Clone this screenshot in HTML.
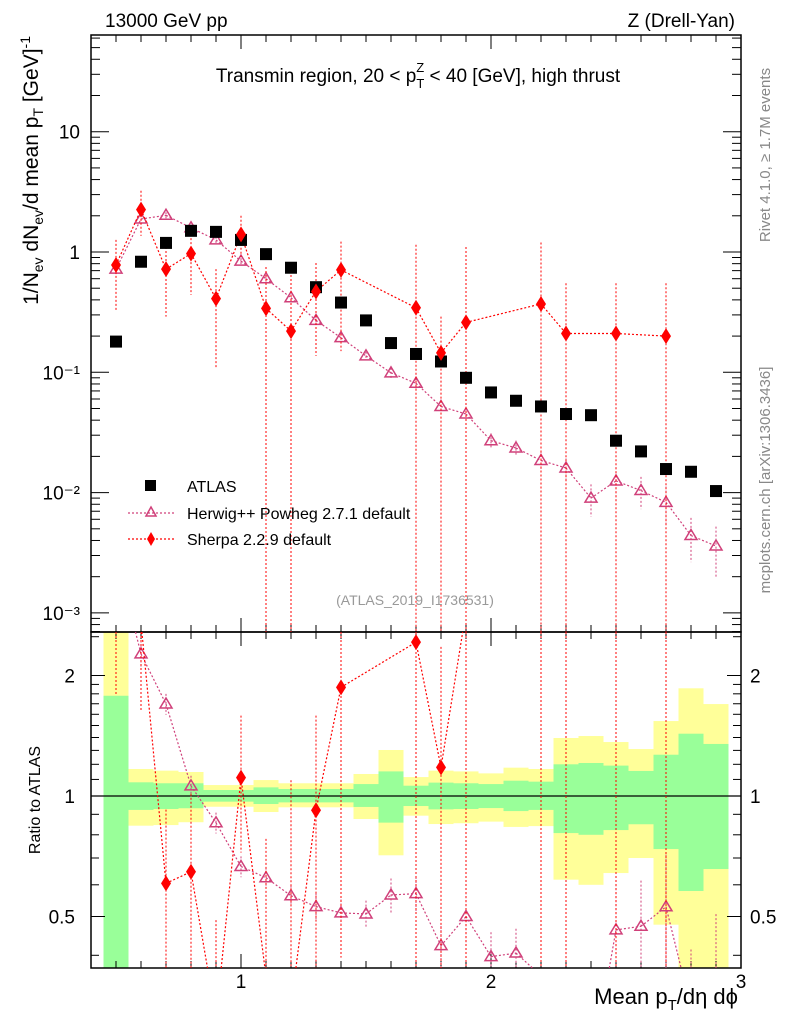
<!DOCTYPE html>
<html><head><meta charset="utf-8"><style>
html,body{margin:0;padding:0;background:#fff;overflow:hidden;width:786px;height:1024px;}
svg{display:block;font-family:"Liberation Sans","DejaVu Sans",sans-serif;}
</style></head><body>
<svg id="chart" width="786" height="1024" viewBox="0 0 786 1024" xmlns="http://www.w3.org/2000/svg">
<g id="ratio-bands"></g>
<g id="axes"></g>
<g id="series"></g>
<text x="105" y="27" font-size="19">13000 GeV pp</text>
<text x="735" y="27" font-size="19" text-anchor="end">Z (Drell-Yan)</text>
<text x="418" y="82" font-size="19" text-anchor="middle">Transmin region, 20 &lt; p<tspan font-size="13" dy="6">T</tspan><tspan font-size="13" dx="-8" dy="-16">Z</tspan><tspan dy="10"> &lt; 40 [GeV], high thrust</tspan></text>
<text transform="translate(38,36) rotate(-90)" font-size="21" text-anchor="end">1/N<tspan font-size="14" dy="5">ev</tspan><tspan dy="-5"> dN</tspan><tspan font-size="14" dy="5">ev</tspan><tspan dy="-5">/d mean p</tspan><tspan font-size="14" dy="5">T</tspan><tspan dy="-5"> [GeV]</tspan><tspan font-size="14" dy="-8">-1</tspan></text>
<text transform="translate(40,800) rotate(-90)" font-size="16" text-anchor="middle">Ratio to ATLAS</text>
<text x="738" y="1004" font-size="22" text-anchor="end">Mean p<tspan font-size="15" dy="6">T</tspan><tspan dy="-6">/dη dϕ</tspan></text>
<text transform="translate(770,155) rotate(-90)" font-size="15" fill="#888" text-anchor="middle">Rivet 4.1.0, ≥ 1.7M events</text>
<text transform="translate(770,480) rotate(-90)" font-size="15" fill="#888" text-anchor="middle">mcplots.cern.ch [arXiv:1306.3436]</text>
<text x="415" y="605" font-size="14" fill="#999" text-anchor="middle">(ATLAS_2019_I1736531)</text>
<g>
<rect x="145" y="480" width="11" height="11" fill="#000"/>
<text x="187" y="492" font-size="16">ATLAS</text>
<line x1="128" y1="513" x2="174" y2="513" stroke="#d0407a" stroke-dasharray="2,2" stroke-width="1.2"/>
<path d="M151,507 L156,516 L146,516 Z" fill="none" stroke="#d0407a" stroke-width="1.5"/>
<text x="187" y="519" font-size="16">Herwig++ Powheg 2.7.1 default</text>
<line x1="128" y1="539" x2="174" y2="539" stroke="#f00" stroke-dasharray="2,2" stroke-width="1.2"/>
<path d="M151,532 L155,539 L151,546 L147,539 Z" fill="#f00"/>
<text x="187" y="545" font-size="16">Sherpa 2.2.9 default</text>
</g>
</svg>
<script>
const xCenters=[0.5,0.6,0.7,0.8,0.9,1.0,1.1,1.2,1.3,1.4,1.5,1.6,1.7,1.8,1.9,2.0,2.1,2.2,2.3,2.4,2.5,2.6,2.7,2.8,2.9];
const atlas=[0.18,0.83,1.19,1.5,1.47,1.26,0.96,0.74,0.51,0.38,0.27,0.175,0.142,0.123,0.09,0.068,0.058,0.052,0.045,0.044,0.027,0.022,0.0157,0.0149,0.0103];
const herwig=[0.72,1.88,2.02,1.59,1.26,0.84,0.60,0.417,0.27,0.194,0.137,0.099,0.081,0.052,0.045,0.027,0.0235,0.0185,0.016,0.009,0.0125,0.0104,0.0083,0.0044,0.0036];
const herwigRelErr=[0.1,0.08,0.06,0.06,0.06,0.06,0.06,0.06,0.08,0.08,0.08,0.1,0.1,0.12,0.15,0.15,0.15,0.2,0.2,0.3,0.3,0.3,0.35,0.4,0.45];
const sherpa=[0.78,2.25,0.72,0.97,0.41,1.40,0.34,0.22,0.47,0.71,null,null,0.344,0.145,0.26,null,null,0.37,0.21,null,0.21,null,0.2,null,null];
const sherpaHi=[1.26,3.23,1.1,1.52,0.72,2.0,0.75,0.81,0.81,1.22,null,null,1.15,0.29,1.1,null,null,1.2,0.55,null,0.55,null,0.55,null,null];
const sherpaLo=[0.32,1.36,0.29,0.44,0.11,0.91,0,0,0.137,0.15,null,null,0,0,0,null,null,0,0,null,0,null,0,null,null];
const totUp=[2.6,1.168,1.157,1.148,1.065,1.065,1.096,1.076,1.076,1.076,1.135,1.303,1.115,1.157,1.152,1.139,1.177,1.168,1.396,1.412,1.364,1.310,1.539,1.858,1.697];
const totDn=[0.3,0.843,0.846,0.860,0.940,0.940,0.912,0.937,0.937,0.937,0.876,0.711,0.893,0.851,0.855,0.863,0.837,0.841,0.618,0.600,0.642,0.700,0.477,0.3,0.3];
const statUp=[1.78,1.082,1.076,1.076,1.035,1.035,1.051,1.041,1.041,1.041,1.071,1.152,1.061,1.080,1.076,1.071,1.092,1.086,1.200,1.209,1.191,1.155,1.268,1.431,1.349];
const statDn=[0.3,0.923,0.928,0.932,0.968,0.968,0.955,0.964,0.964,0.964,0.939,0.858,0.944,0.926,0.928,0.933,0.917,0.923,0.808,0.800,0.822,0.850,0.737,0.579,0.657];
const mainTicks=[["10",1e1],["1",1],["10⁻¹",0.1],["10⁻²",0.01],["10⁻³",0.001]];
const ratioTicks=[["2",2],["1",1],["0.5",0.5]];
const xTicks=[1,2,3];

const X0=91,X1=741,MT=35,MB=632,RB=968;
const NS="http://www.w3.org/2000/svg";
function xs(v){return X0+(v-0.4)*250;}
function ys(v){return 252-120.3*Math.log10(v);}
function rs(r){return 796-120.5*Math.log2(r);}
function cl(y,a,b){return Math.max(a,Math.min(b,y));}
function mk(tag,attrs,parent){const e=document.createElementNS(NS,tag);for(const k in attrs)e.setAttribute(k,attrs[k]);parent.appendChild(e);return e;}
function clipPath(P,ya,yb){let d='';
 for(let i=0;i<P.length-1;i++){let [x1,y1]=P[i],[x2,y2]=P[i+1];
  if((y1<ya&&y2<ya)||(y1>yb&&y2>yb))continue;
  const f=(y)=>x1+(x2-x1)*(y-y1)/(y2-y1);
  if(y1<ya){x1=f(ya);y1=ya;} else if(y1>yb){x1=f(yb);y1=yb;}
  const ox2=P[i+1][0],oy2=P[i+1][1];
  if(oy2<ya){x2=P[i][0]+(ox2-P[i][0])*(ya-P[i][1])/(oy2-P[i][1]);y2=ya;}
  else if(oy2>yb){x2=P[i][0]+(ox2-P[i][0])*(yb-P[i][1])/(oy2-P[i][1]);y2=yb;}
  d+=`M${x1.toFixed(1)},${y1.toFixed(1)}L${x2.toFixed(1)},${y2.toFixed(1)}`;}
 return d||'M0,0';}
const bands=document.getElementById('ratio-bands'),axes=document.getElementById('axes'),ser=document.getElementById('series');

xCenters.forEach((c,i)=>{
 const x=xs(c-0.05),w=xs(c+0.05)-x;
 const yt=cl(rs(totUp[i]),MB,RB),yb=cl(rs(totDn[i]),MB,RB);
 const r1=mk('rect',{x:x,y:yt,width:w,height:yb-yt,fill:'#ffff99'},bands);
 
 
 const gt=cl(rs(statUp[i]),MB,RB),gb=cl(rs(statDn[i]),MB,RB);
 const r2=mk('rect',{x:x,y:gt,width:w,height:gb-gt,fill:'#99ff99'},bands);
 
 
});

[[MT,MB],[MB,RB]].forEach(([a,b])=>{const f=mk('rect',{x:X0,y:a,width:X1-X0,height:b-a,fill:'none',stroke:'#000','stroke-width':1.5},axes);
 
 });
mk('line',{x1:X0,y1:796,x2:X1,y2:796,stroke:'#000','stroke-width':1.3},axes);
for(let k=5;k<=29;k++){const v=k/10,x=xs(v),maj=Math.abs(v-Math.round(v))<1e-6;const L=maj?14:7;
 [[MT,1],[MB,-1],[MB,1],[RB,-1]].forEach(([y,d])=>mk('line',{x1:x,y1:y,x2:x,y2:y+d*L,stroke:'#000'},axes));}
xTicks.forEach(v=>{const t=mk('text',{x:xs(v),y:988,'font-size':19,'text-anchor':'middle'},axes);t.textContent=v;
 
 });
for(let e=-4;e<=1;e++)for(let m=1;m<=9;m++){const v=m*Math.pow(10,e),y=ys(v);if(y<MT||y>MB)continue;const L=m==1?18:9;
 mk('line',{x1:X0,y1:y,x2:X0+L,y2:y,stroke:'#000'},axes);mk('line',{x1:X1,y1:y,x2:X1-L,y2:y,stroke:'#000'},axes);}
mainTicks.forEach(([s,v])=>{const t=mk('text',{x:80,y:ys(v)+7,'font-size':19,'text-anchor':'end'},axes);t.textContent=s;
 
 });
[0.4,0.5,0.6,0.7,0.8,0.9,1,1.1,1.2,1.3,1.4,1.5,1.6,1.7,1.8,1.9,2,2.5].forEach(v=>{const y=rs(v);const L=(v==0.5||v==1||v==2)?14:8;
 mk('line',{x1:X0,y1:y,x2:X0+L,y2:y,stroke:'#000'},axes);mk('line',{x1:X1,y1:y,x2:X1-L,y2:y,stroke:'#000'},axes);});
ratioTicks.forEach(([s,v])=>{[[75,'end'],[750,'start']].forEach(([x,a])=>{const t=mk('text',{x:x,y:rs(v)+7,'font-size':19,'text-anchor':a},axes);t.textContent=s;
 
 });});

const gm=mk('g',{},ser),gr=mk('g',{},ser);
function tri(g,x,y,col){return mk('path',{d:`M${x},${y-6} L${x+6},${y+4} L${x-6},${y+4} Z`,fill:'none',stroke:col,'stroke-width':1.5},g);}
function dia(g,x,y){return mk('path',{d:`M${x},${y-8} L${x+5},${y} L${x},${y+8} L${x-5},${y} Z`,fill:'#f00'},g);}
function inR(y){return y>=MB+6&&y<=RB-6;}
function inM(y){return y>=MT+6&&y<=MB-6;}
function vline(g,x,a,b,lo,hi,col){const y1=cl(a,lo,hi),y2=cl(b,lo,hi);if(y1===y2)return;mk('line',{x1:x,y1:y1,x2:x,y2:y2,stroke:col,'stroke-dasharray':'2,2'},g);}
const HC='#d0407a';
let P=[];
xCenters.forEach((c,i)=>{const x=xs(c);P.push([x,ys(herwig[i])]);
 vline(gm,x,ys(herwig[i]*(1+herwigRelErr[i])),ys(herwig[i]*(1-herwigRelErr[i])),MT,MB,HC);});
mk('path',{d:clipPath(P,MT,MB),fill:'none',stroke:HC,'stroke-dasharray':'2,2','stroke-width':1.2},gm);
xCenters.forEach((c,i)=>{const y=ys(herwig[i]);if(!inM(y))return;const p=tri(gm,xs(c),y,HC);
 
 });
P=[];
xCenters.forEach((c,i)=>{if(sherpa[i]==null)return;const x=xs(c);P.push([x,ys(sherpa[i])]);
 const lo=sherpaLo[i]>0?ys(sherpaLo[i]):MB;
 vline(gm,x,ys(sherpaHi[i]),lo,MT,MB,'#f00');});
mk('path',{d:clipPath(P,MT,MB),fill:'none',stroke:'#f00','stroke-dasharray':'2,2','stroke-width':1.2},gm);
xCenters.forEach((c,i)=>{const r=mk('rect',{x:xs(c)-6,y:ys(atlas[i])-6,width:12,height:12,fill:'#000'},gm);
 
 });
xCenters.forEach((c,i)=>{if(sherpa[i]==null)return;const d=dia(gm,xs(c),ys(sherpa[i]));
 
 });
P=[];
xCenters.forEach((c,i)=>{const r=herwig[i]/atlas[i],x=xs(c);P.push([x,rs(r)]);
 vline(gr,x,rs(r*(1+herwigRelErr[i])),rs(r*(1-herwigRelErr[i])),MB,RB,HC);});
mk('path',{d:clipPath(P,MB,RB),fill:'none',stroke:HC,'stroke-dasharray':'2,2','stroke-width':1.2},gr);
xCenters.forEach((c,i)=>{const y=rs(herwig[i]/atlas[i]);if(!inR(y))return;const p=tri(gr,xs(c),y,HC);
 
 });
P=[];
xCenters.forEach((c,i)=>{if(sherpa[i]==null)return;const x=xs(c);P.push([x,rs(sherpa[i]/atlas[i])]);
 const lo=sherpaLo[i]>0?rs(sherpaLo[i]/atlas[i]):RB;
 vline(gr,x,rs(sherpaHi[i]/atlas[i]),lo,MB,RB,'#f00');});
mk('path',{d:clipPath(P,MB,RB),fill:'none',stroke:'#f00','stroke-dasharray':'2,2','stroke-width':1.2},gr);
xCenters.forEach((c,i)=>{if(sherpa[i]==null)return;const y=rs(sherpa[i]/atlas[i]);if(!inR(y))return;const d=dia(gr,xs(c),y);
 
 });
</script>
</body></html>
